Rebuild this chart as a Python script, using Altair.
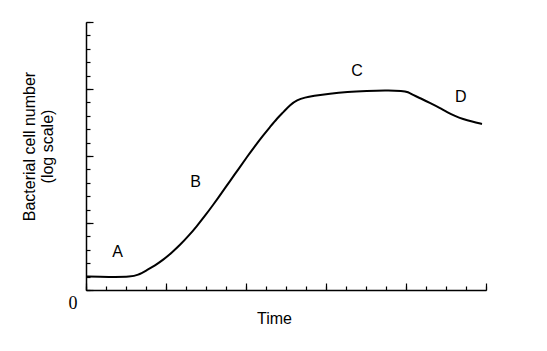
import altair as alt
import pandas as pd

# Growth curve (time units 0-20, log-cell units 0-20)
time_vals = [0, 0.7, 1.45, 2.2, 2.6, 3.05, 3.45, 3.85, 4.3, 4.7, 5.1, 5.55, 5.95,
             6.35, 6.8, 7.2, 7.65, 8.05, 8.45, 8.85, 9.2, 9.55, 9.9, 10.2, 10.55,
             10.95, 11.35, 12.2, 13.05, 14.05, 14.95, 15.85, 16.1, 16.35, 16.8,
             17.2, 17.7, 18.05, 18.45, 18.85, 19.3, 19.8]
cell_vals = [1.01, 0.99, 0.97, 0.99, 1.10, 1.49, 1.83, 2.24, 2.80, 3.36, 3.99, 4.78,
             5.54, 6.34, 7.28, 8.13, 9.08, 9.93, 10.75, 11.53, 12.16, 12.80, 13.32,
             13.81, 14.18, 14.37, 14.48, 14.66, 14.78, 14.85, 14.89, 14.87, 14.78,
             14.55, 14.25, 13.96, 13.58, 13.28, 12.99, 12.76, 12.57, 12.39]

phase_labels = ["A", "B", "C", "D"]
phase_x = [1.575, 5.475, 13.55, 18.74]
phase_y = [2.80, 8.06, 16.34, 14.44]

origin_label = ["0"]
origin_x = [-0.65]
origin_y = [-1.04]

x_minor_ticks = list(range(0, 21))
x_major_ticks = [0, 4, 8, 12, 16, 20]
y_minor_ticks = list(range(0, 21))
y_major_ticks = [0, 5, 10, 15, 20]

curve_df = pd.DataFrame({"t": time_vals, "n": cell_vals})
label_df = pd.DataFrame({"t": phase_x, "n": phase_y, "lab": phase_labels})
zero_df = pd.DataFrame({"t": origin_x, "n": origin_y, "lab": origin_label})

FONT = "Liberation Sans"
xs = alt.Scale(domain=[0, 20], nice=False, zero=False)
ys = alt.Scale(domain=[0, 20], nice=False, zero=False)

curve = alt.Chart(curve_df).mark_line(
    color="black", strokeWidth=2, interpolate="basis"
).encode(
    x=alt.X("t:Q", scale=xs, axis=alt.Axis(
        orient="bottom", domain=True, domainColor="black", domainWidth=1.5,
        ticks=False, labels=False, grid=False, title="Time",
        titleFont=FONT, titleFontSize=16, titleFontWeight="normal",
        titleColor="black", titleX=188, titleY=20, titleAlign="center",
        titleBaseline="top")),
    y=alt.Y("n:Q", scale=ys, axis=alt.Axis(
        orient="left", domain=True, domainColor="black", domainWidth=1.5,
        ticks=False, labels=False, grid=False,
        title=["Bacterial cell number", "(log scale)"],
        titleFont=FONT, titleFontSize=16, titleFontWeight="normal",
        titleColor="black", titleLineHeight=18, titleAngle=270,
        titleX=-65, titleY=124, titleAlign="center", titleBaseline="top")),
)

labels = alt.Chart(label_df).mark_text(
    font=FONT, fontSize=16, color="black", align="center", baseline="middle"
).encode(
    x=alt.X("t:Q", scale=xs, axis=alt.Axis(
        orient="top", offset=-268, values=x_minor_ticks, tickSize=4,
        tickWidth=1.2, tickColor="black", domain=False, labels=False,
        grid=False, title=None)),
    y=alt.Y("n:Q", scale=ys, axis=alt.Axis(
        orient="right", offset=-400, values=y_minor_ticks, tickSize=4,
        tickWidth=1.2, tickColor="black", domain=False, labels=False,
        grid=False, title=None)),
    text="lab:N",
)

zero = alt.Chart(zero_df).mark_text(
    font="Times New Roman, Liberation Serif, serif", fontSize=18,
    color="black", align="center", baseline="middle"
).encode(
    x=alt.X("t:Q", scale=xs, axis=alt.Axis(
        orient="top", offset=-268, values=x_major_ticks, tickSize=7,
        tickWidth=1.2, tickColor="black", domain=False, labels=False,
        grid=False, title=None)),
    y=alt.Y("n:Q", scale=ys, axis=alt.Axis(
        orient="right", offset=-400, values=y_major_ticks, tickSize=7,
        tickWidth=1.2, tickColor="black", domain=False, labels=False,
        grid=False, title=None)),
    text="lab:N",
)

chart = alt.layer(curve, labels, zero).resolve_axis(
    x="independent", y="independent"
).properties(
    width=400, height=268,
    autosize=alt.AutoSizeParams(type="none"),
    padding={"left": 86, "top": 22, "right": 61, "bottom": 61},
    background="white",
).configure_view(strokeWidth=0)

chart.save("out.html", embed_options={"renderer": "svg", "actions": False})
